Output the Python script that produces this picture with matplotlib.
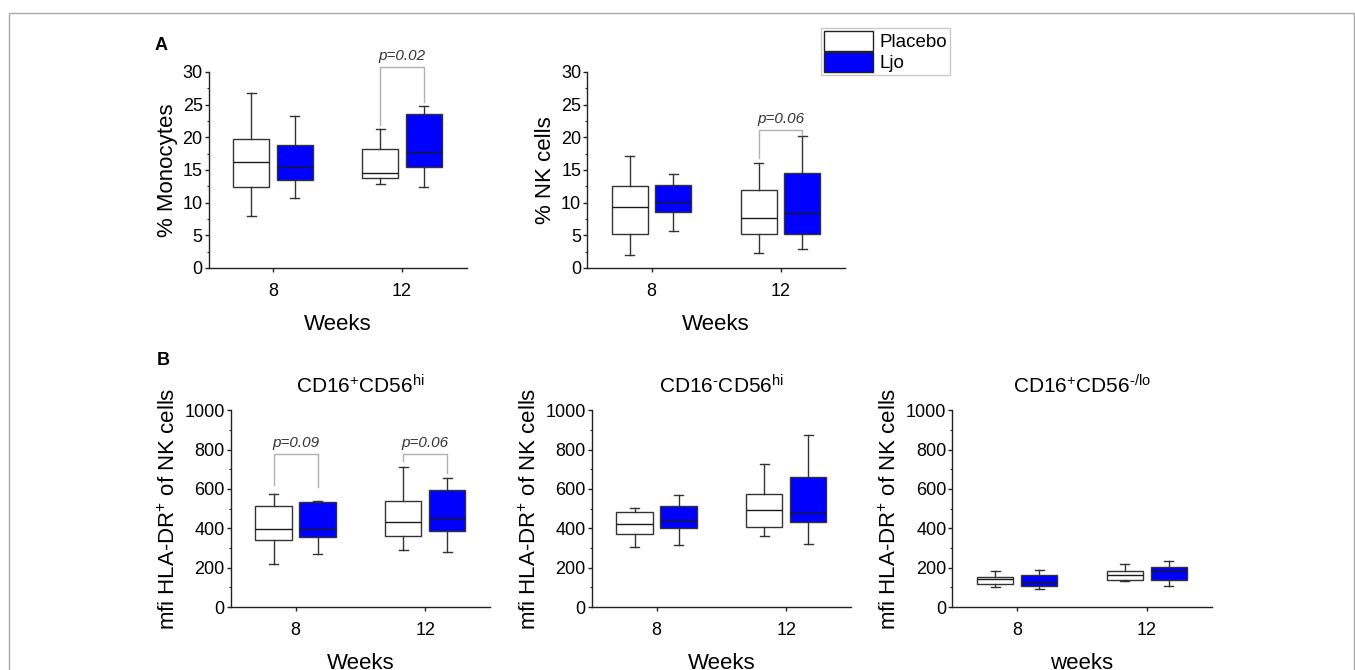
import matplotlib
matplotlib.use("Agg")
import matplotlib.pyplot as plt
import numpy as np
from matplotlib.patches import Patch, Rectangle
from matplotlib.ticker import MultipleLocator

plt.rcParams["font.family"] = ["Liberation Sans", "DejaVu Sans"]
plt.rcParams["mathtext.fontset"] = "custom"
plt.rcParams["mathtext.rm"] = "Liberation Sans"
plt.rcParams["mathtext.it"] = "Liberation Sans:italic"
plt.rcParams["mathtext.bf"] = "Liberation Sans:bold"

weeks = ["8", "12"]
groups = ["Placebo", "Ljo"]
fills = ["white", "#0000ff"]

# five-number summaries per week: whisker low, Q1, median, Q3, whisker high
mono_placebo = [[7.9, 12.35, 16.2, 19.7, 26.8], [12.8, 13.7, 14.5, 18.2, 21.3]]
mono_ljo = [[10.7, 13.5, 15.4, 18.8, 23.3], [12.4, 15.4, 17.8, 23.5, 24.8]]

nk_placebo = [[1.95, 5.25, 9.3, 12.55, 17.2], [2.3, 5.2, 7.6, 12.0, 16.1]]
nk_ljo = [[5.6, 8.5, 10.1, 12.75, 14.4], [2.95, 5.25, 8.4, 14.6, 20.2]]

hi_placebo = [[220, 342, 398, 515, 575], [292, 363, 432, 541, 710]]
hi_ljo = [[271, 354, 395, 532, 539], [281, 385, 451, 597, 658]]

neg_placebo = [[305, 373, 422, 485, 505], [362, 405, 492, 574, 729]]
neg_ljo = [[314, 403, 441, 512, 568], [320, 432, 478, 661, 876]]

lo_placebo = [[100, 117, 141, 154, 185], [131, 137, 163, 185, 220]]
lo_ljo = [[90, 108, 127, 161, 188], [107, 135, 184, 204, 235]]

# significance brackets: week index, bar level, left leg end, right leg end, label
mono_brackets = [(1, 30.7, 21.9, 25.4, "p=0.02")]
nk_brackets = [(1, 21.1, 16.8, 20.3, "p=0.06")]
hi_brackets = [(0, 776, 620, 612, "p=0.09"), (1, 776, 744, 680, "p=0.06")]

SHIFT = 0.17
W = 1355
H = 670


def draw_boxes(ax, placebo, ljo):
    pos = np.arange(1, len(weeks) + 1)
    for stats, shift, fill in ((placebo, -SHIFT, fills[0]), (ljo, SHIFT, fills[1])):
        bstats = [dict(whislo=s[0], q1=s[1], med=s[2], q3=s[3], whishi=s[4], fliers=[]) for s in stats]
        ax.bxp(
            bstats,
            positions=pos + shift,
            widths=0.28,
            capwidths=0.07,
            patch_artist=True,
            showfliers=False,
            manage_ticks=False,
            boxprops=dict(facecolor=fill, edgecolor="#333333", linewidth=1.0),
            medianprops=dict(color="#1a1a1a", linewidth=1.0),
            whiskerprops=dict(color="#333333", linewidth=1.0),
            capprops=dict(color="#333333", linewidth=1.0),
        )
    ax.set_xticks(pos, weeks)
    ax.set_xlim(0.5, len(weeks) + 0.5)


def style_axis(ax, ymax, major, minor, ylabel, xlabel):
    ax.set_ylim(0, ymax)
    ax.yaxis.set_major_locator(MultipleLocator(major))
    ax.yaxis.set_minor_locator(MultipleLocator(minor))
    for side in ("top", "right"):
        ax.spines[side].set_visible(False)
    for side in ("left", "bottom"):
        ax.spines[side].set_color("#222222")
        ax.spines[side].set_linewidth(1.0)
    ax.tick_params(axis="y", which="major", direction="out", length=3, width=1.0, pad=1.2, labelsize=13, color="#222222")
    ax.tick_params(axis="y", which="minor", direction="out", length=1.8, width=0.8, color="#222222")
    ax.tick_params(axis="x", which="major", direction="out", length=3, width=1.0, pad=7.5, labelsize=13, color="#222222")
    ax.set_ylabel(ylabel, fontsize=16, labelpad=3.5)
    ax.set_xlabel(xlabel, fontsize=16, labelpad=10.5)


def draw_brackets(ax, brackets):
    for i, y_bar, y_left, y_right, label in brackets:
        x0 = i + 1 - SHIFT
        x1 = i + 1 + SHIFT
        ax.plot([x0, x0, x1, x1], [y_left, y_bar, y_bar, y_right], color="#b0b0b0", linewidth=1.0, clip_on=False)
        ax.annotate(label, xy=((x0 + x1) / 2, y_bar), xytext=(0, 3), textcoords="offset points",
                    ha="center", va="bottom", fontsize=11, style="italic", color="#333333",
                    annotation_clip=False)


def axes_box(left_px, bottom_px, width_px, height_px):
    return [left_px / W, (H - bottom_px) / H, width_px / W, height_px / H]


fig = plt.figure(figsize=(W / 100, H / 100), dpi=100)

ax_mono = fig.add_axes(axes_box(208.5, 268, 258, 196))
draw_boxes(ax_mono, mono_placebo, mono_ljo)
style_axis(ax_mono, 30, 5, 2.5, "% Monocytes", "Weeks")
draw_brackets(ax_mono, mono_brackets)

ax_nk = fig.add_axes(axes_box(587, 268, 258, 196))
draw_boxes(ax_nk, nk_placebo, nk_ljo)
style_axis(ax_nk, 30, 5, 2.5, "% NK cells", "Weeks")
draw_brackets(ax_nk, nk_brackets)

mfi_label = r"mfi HLA-DR$^{+}$ of NK cells"
panels_b = [
    (230.7, hi_placebo, hi_ljo, r"CD16$^{+}$CD56$^{\rm hi}$", "Weeks", hi_brackets),
    (591.7, neg_placebo, neg_ljo, r"CD16$^{\text{-}}$CD56$^{\rm hi}$", "Weeks", []),
    (952.3, lo_placebo, lo_ljo, r"CD16$^{+}$CD56$^{\text{-/lo}}$", "weeks", []),
]
for left, plc, ljo, title, xlabel, brackets in panels_b:
    ax = fig.add_axes(axes_box(left, 607, 259.4, 196.7))
    draw_boxes(ax, plc, ljo)
    style_axis(ax, 1000, 200, 100, mfi_label, xlabel)
    ax.set_title(title, fontsize=15, pad=12)
    draw_brackets(ax, brackets)

fig.text(155 / W, (H - 50) / H, "A", fontsize=13, fontweight="bold", ha="left", va="baseline")
fig.text(157 / W, (H - 365) / H, "B", fontsize=13, fontweight="bold", ha="left", va="baseline")

handles = [Patch(facecolor=f, edgecolor="#222222", linewidth=1.0) for f in fills]
leg = fig.legend(handles, groups, loc="upper left", bbox_to_anchor=(821 / W, (H - 28) / H),
                 fontsize=13.5, frameon=True, fancybox=False, borderpad=0.15, labelspacing=0.05,
                 handlelength=2.6, handleheight=1.25, handletextpad=0.35, borderaxespad=0)
leg.get_frame().set_edgecolor("#bbbbbb")
leg.get_frame().set_linewidth(1.0)

fig.add_artist(Rectangle((8.5 / W, -0.05), (1354 - 8.5) / W, (H - 13) / H + 0.05,
                         transform=fig.transFigure, fill=False, edgecolor="#a8a8a8", linewidth=1.0))

fig.savefig("out.png", dpi=100)
